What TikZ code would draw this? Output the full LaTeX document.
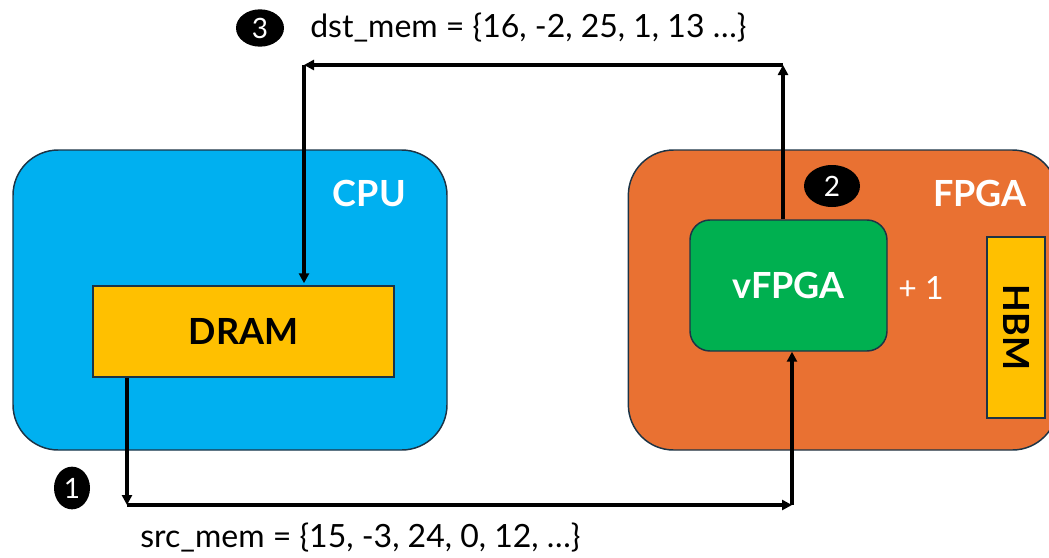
\documentclass[tikz,border=0pt]{standalone}
\usepackage{fontspec}
\setmainfont{Lato}
\usetikzlibrary{arrows.meta,positioning,shapes.geometric}
\definecolor{cpublue}{RGB}{0,176,240}
\definecolor{fpgaorange}{RGB}{233,113,50}
\definecolor{vgreen}{RGB}{0,176,80}
\definecolor{memyellow}{RGB}{255,192,0}
\definecolor{edge}{RGB}{28,52,70}

\begin{document}
\begin{tikzpicture}[
  x=0.75pt, y=-0.75pt,
  chip/.style={draw=edge, line width=1.1pt, rounded corners=34pt, minimum height=225pt},
  mem/.style={draw=edge, line width=1.1pt, fill=memyellow, font=\bfseries\fontsize{27}{30}\selectfont},
  title/.style={text=white, font=\bfseries\fontsize{27}{30}\selectfont},
  badge/.style={ellipse, fill=black, text=white, inner sep=0pt, font=\fontsize{21}{24}\selectfont},
  lbl/.style={font=\fontsize{24}{28}\selectfont, inner sep=0pt},
  arr/.style={-{Triangle[length=7.5pt,width=7.5pt]}, line width=2.6pt}
]
\useasboundingbox (0,0) rectangle (1049,557);
\node[chip, fill=cpublue, minimum width=325.5pt] (cpu) at (230,300) {};
\node[chip, fill=fpgaorange, minimum width=322pt] (fpga) at (843,300) {};
\node[title, anchor=base east, inner sep=0pt] (cputitle) at (406,206) {CPU};
\node[title, anchor=base east, inner sep=0pt] (fpgatitle) at (1027,206) {FPGA};
\node[mem, minimum width=225.75pt, minimum height=68.25pt] (dram) at (243.5,331.5) {DRAM};
\node[draw=edge, line width=1.1pt, fill=vgreen, rounded corners=15pt, minimum width=147.75pt, minimum height=98.25pt,
  text=white, font=\bfseries\fontsize{27}{30}\selectfont] (vfpga) at (788.5,285.5) {vFPGA};
\node[mem, rotate=-90, minimum width=135.75pt, minimum height=43.5pt] (hbm) at (1016,327.5) {HBM};
\node[lbl, text=white] (plus) at (921,288) {+ 1};
\node[badge, minimum width=36pt, minimum height=28pt] (b3) at (260,28) {3};
\node[badge, minimum width=42pt, minimum height=31.5pt] (b2) at (832,186) {2};
\node[badge, minimum width=27pt, minimum height=32pt] (b1) at (72,488) {1};
\node[lbl, anchor=west] (dst) at (310,28) {dst\_mem = \{16, -2, 25, 1, 13 …\}};
\node[lbl, anchor=west] (src) at (140,538) {src\_mem = \{15, -3, 24, 0, 12, …\}};
\coordinate (tl) at (304,65);
\coordinate (tr) at (783,65);
\coordinate (bl) at (127,505);
\coordinate (br) at (792,505);
\draw[arr] (vfpga.north -| tr) -- (tr);
\draw[arr] (tr) -- (tl);
\draw[arr] (tl) -- ([yshift=1.5pt]tl |- dram.north);
\draw[arr] (bl |- dram.south) -- (bl);
\draw[arr] (bl) -- (br);
\draw[arr] (br) -- (br |- vfpga.south);
\end{tikzpicture}
\end{document}
